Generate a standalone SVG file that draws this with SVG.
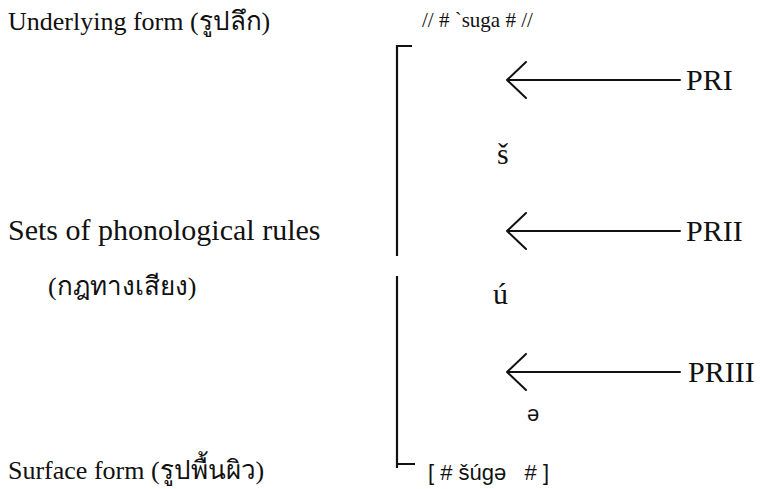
<svg xmlns="http://www.w3.org/2000/svg" width="766" height="489" viewBox="0 0 766 489">
<defs>
<style>
.bg{fill:#ffffff}
.lbl{font-family:"Liberation Serif","Noto Sans CJK SC",serif;font-size:26px;fill:#111}
.lbl2{font-family:"Liberation Serif","Noto Sans CJK SC",serif;font-size:30px;fill:#111}
.form{font-family:"Liberation Serif",serif;font-size:21px;fill:#111}
.seg{font-family:"Liberation Serif",serif;font-size:30px;fill:#111}
.ipa{font-family:"Liberation Sans","DejaVu Sans",sans-serif;font-size:22px;fill:#111}
.rule{font-family:"Liberation Serif",serif;font-size:30px;fill:#111}
.br{stroke:#111;stroke-width:2.2;fill:none}
.arr{stroke:#111;stroke-width:2;fill:none;stroke-linecap:round;stroke-linejoin:round}
</style>
</defs>
<rect class="bg" x="0" y="0" width="766" height="489"/>
<g id="label-underlying"><text class="lbl" x="8" y="30">Underlying form (รูปลึก)</text></g>
<g id="label-rules"><text class="lbl2" x="8" y="240">Sets of phonological rules</text><text class="lbl" x="48" y="295">(กฎทางเสียง)</text></g>
<g id="label-surface"><text class="lbl" x="8" y="479">Surface form (รูปพื้นผิว)</text></g>
<g id="underlying-form"><text class="form" x="422" y="27" xml:space="preserve">// # `suga # //</text></g>
<g id="brackets">
<path class="br" d="M412,46 H397 V256"/>
<path class="br" d="M397,276 V468 M397,464 H415"/>
</g>
<g id="seg-s"><text class="seg" x="497" y="164">š</text></g>
<g id="seg-u"><text class="seg" x="493" y="304">ú</text></g>
<g id="seg-schwa"><text class="ipa" x="527" y="421">ə</text></g>
<g id="surface-form"><text class="ipa" x="428" y="480" xml:space="preserve">[ # šúgə   # ]</text></g>
<g id="rule-PRI"><text class="rule" x="686" y="90">PRI</text></g>
<g id="rule-PRII"><text class="rule" x="686" y="241">PRII</text></g>
<g id="rule-PRIII"><text class="rule" x="688" y="382">PRIII</text></g>
<g id="connectors">
<path class="arr" d="M680,80 H507 M526,62 L507,80 L526,98"/>
<path class="arr" d="M680,231 H507 M526,213 L507,231 L526,249"/>
<path class="arr" d="M680,372 H507 M526,354 L507,372 L526,390"/>
</g>
</svg>
